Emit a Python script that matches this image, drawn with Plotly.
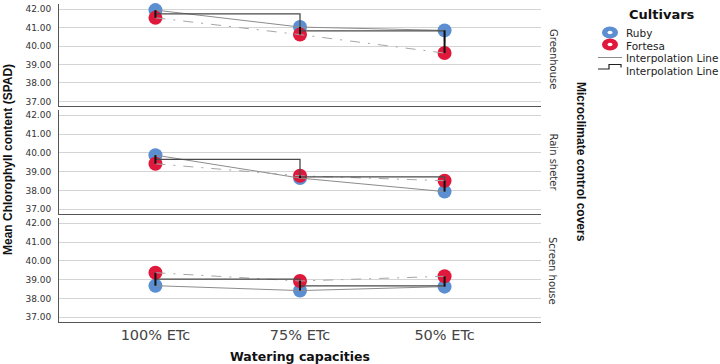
import plotly.graph_objects as go
from plotly.subplots import make_subplots

# ---- data ----
categories = ["100% ETc", "75% ETc", "50% ETc"]
covers = ["Greenhouse", "Rain sheter", "Screen house"]
ruby = {
    "Greenhouse": [41.95, 41.03, 40.85],
    "Rain sheter": [39.88, 38.66, 37.94],
    "Screen house": [38.68, 38.42, 38.63],
}
fortesa = {
    "Greenhouse": [41.53, 40.62, 39.62],
    "Rain sheter": [39.42, 38.78, 38.52],
    "Screen house": [39.37, 38.93, 39.18],
}
y_ticks = [37, 38, 39, 40, 41, 42]

RUBY_C = "#5B8FD2"
FORT_C = "#E0193C"

W, H = 720, 364
L, R, T, B = 59, 179, 4, 42
PW, PH = W - L - R, H - T - B


def px_x(x):
    return (x - L) / PW


def px_y(y):
    return (H - B - y) / PH


fig = make_subplots(rows=3, cols=1, shared_xaxes=True, vertical_spacing=0.02)

domains = [[px_y(106), px_y(4)], [px_y(214), px_y(110)], [px_y(322), px_y(218)]]
label_centers = [59, 162.5, 271]
xi = [0, 1, 2]


def ann(x, y, text, size, family="DejaVu Sans", color="#111111", angle=0, xanchor="center"):
    fig.add_annotation(xref="paper", yref="paper", x=px_x(x), y=px_y(y),
                       xanchor=xanchor, yanchor="middle", text=text,
                       textangle=angle, showarrow=False,
                       font=dict(family=family, size=size, color=color))


for i, cov in enumerate(covers):
    row = i + 1
    r = ruby[cov]
    f = fortesa[cov]
    mean = [(a + b) / 2 for a, b in zip(r, f)]
    fig.add_trace(go.Scatter(x=xi, y=r, mode="markers", cliponaxis=False,
                             marker=dict(color=RUBY_C, size=14, line=dict(width=0)),
                             showlegend=False, hoverinfo="skip"), row=row, col=1)
    fig.add_trace(go.Scatter(x=xi, y=f, mode="markers", cliponaxis=False,
                             marker=dict(color=FORT_C, size=14, line=dict(width=0)),
                             showlegend=False, hoverinfo="skip"), row=row, col=1)
    fig.add_trace(go.Scatter(x=xi, y=r, mode="lines",
                             line=dict(color="#8c8c8c", width=1),
                             showlegend=False, hoverinfo="skip"), row=row, col=1)
    fig.add_trace(go.Scatter(x=xi, y=f, mode="lines",
                             line=dict(color="#a6a6a6", width=1, dash="10px,8px,2px,8px"),
                             showlegend=False, hoverinfo="skip"), row=row, col=1)
    fig.add_trace(go.Scatter(x=xi, y=mean, mode="lines",
                             line=dict(color="#4a4a4a", width=1.3, shape="hv"),
                             showlegend=False, hoverinfo="skip"), row=row, col=1)
    dx, dy = [], []
    for k in xi:
        dx += [k, k, None]
        dy += [r[k], f[k], None]
    fig.add_trace(go.Scatter(x=dx, y=dy, mode="lines",
                             line=dict(color="#111111", width=2),
                             showlegend=False, hoverinfo="skip"), row=row, col=1)

    yname = "yaxis" if row == 1 else f"yaxis{row}"
    fig.layout[yname].update(
        domain=domains[i], range=[36.75, 42.28], tickvals=y_ticks,
        tickformat=".2f", showgrid=True, gridcolor="#d4d4d4", gridwidth=1,
        zeroline=False, showline=True, linecolor="#555555", linewidth=1,
        ticks="", ticklabelstandoff=5,
        tickfont=dict(family="DejaVu Sans", size=9, color="#333333"),
    )
    xname = "xaxis" if row == 1 else f"xaxis{row}"
    fig.layout[xname].update(
        range=[-0.667, 2.667], tickvals=xi, ticktext=categories,
        showgrid=False, zeroline=False, showline=True, linecolor="#555555",
        linewidth=1, ticks="", showticklabels=(row == 3),
        tickfont=dict(family="DejaVu Sans", size=14.5, color="#444444"),
    )
    ann(553, label_centers[i], cov, 10, color="#333333", angle=90)

# axis titles
ann(8, 160, "<b>Mean Chlorophyll content (SPAD)</b>", 12, family="Liberation Sans", angle=-90)
ann(300, 356, "<b>Watering capacities</b>", 12.5)
ann(581, 162, "<b>Microclimate control covers</b>", 12, family="Liberation Sans", angle=90)

# legend (manual)
ann(627, 15, "<b>Cultivars</b>", 13, xanchor="left")
shapes = []
for yc, col in [(32.5, RUBY_C), (44.5, FORT_C)]:
    shapes.append(dict(type="circle", xref="paper", yref="paper",
                       x0=px_x(602), x1=px_x(618), y0=px_y(yc + 6), y1=px_y(yc - 6),
                       fillcolor=col, line=dict(width=0)))
    shapes.append(dict(type="circle", xref="paper", yref="paper",
                       x0=px_x(607.5), x1=px_x(612.5), y0=px_y(yc + 1.8), y1=px_y(yc - 1.8),
                       fillcolor="white", line=dict(width=0)))
shapes.append(dict(type="line", xref="paper", yref="paper",
                   x0=px_x(598), x1=px_x(622), y0=px_y(57.5), y1=px_y(57.5),
                   line=dict(color="#8c8c8c", width=1)))
path = "M {} {} L {} {} L {} {} L {} {} L {} {}".format(
    px_x(598), px_y(69), px_x(609), px_y(69), px_x(609), px_y(64.5),
    px_x(621), px_y(64.5), px_x(621), px_y(67.5))
shapes.append(dict(type="path", xref="paper", yref="paper", path=path,
                   line=dict(color="#222222", width=1.2)))
fig.update_layout(shapes=shapes)

for txt, yc in [("Ruby", 33), ("Fortesa", 45.5), ("Interpolation Line", 58), ("Interpolation Line", 70.5)]:
    ann(624, yc, txt, 10.5, color="#222222", xanchor="left")

fig.update_layout(
    width=W, height=H, margin=dict(l=L, r=R, t=T, b=B),
    paper_bgcolor="white", plot_bgcolor="white", showlegend=False,
)

fig.write_html("out.html", config={"displayModeBar": False},
               post_script="document.body.style.margin='0';")
